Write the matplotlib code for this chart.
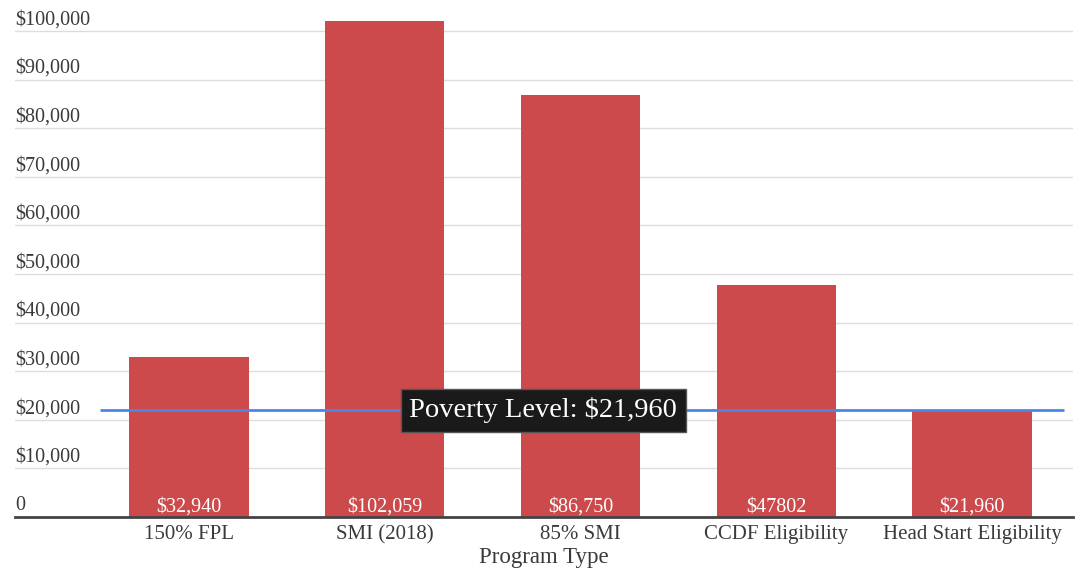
import matplotlib
matplotlib.use('Agg')
from matplotlib import pyplot as plt

# chart data
programs = ['150% FPL', 'SMI (2018)', '85% SMI', 'CCDF Eligibility', 'Head Start Eligibility']
incomes = [32940, 102059, 86750, 47802, 21960]
value_labels = ['$32,940', '$102,059', '$86,750', '$47802', '$21,960']
poverty_level = 21960
y_ticks = [0, 10000, 20000, 30000, 40000, 50000, 60000, 70000, 80000, 90000, 100000]

bar_color = '#cc4a4c'
line_color = '#4a86e8'
text_color = '#3a3a3a'

plt.rcParams['font.family'] = ['Liberation Serif', 'DejaVu Serif']

fig = plt.figure(figsize=(10.81, 5.73), dpi=100)
ax = fig.add_axes([15 / 1081, 1 - 517 / 573, (1073 - 15) / 1081, 517 / 573])

x = list(range(len(programs)))
ax.bar(x, incomes, width=0.61, color=bar_color, zorder=2)

ax.set_xlim(-0.888, 4.515)
ax.set_ylim(0, 106380)

# gridlines and y labels sitting above them
for t in y_ticks:
    if t > 0:
        ax.axhline(t, color='#dddddd', linewidth=1, zorder=1)
    label = '0' if t == 0 else '${:,}'.format(t)
    ax.text(0, t + 350, label, transform=ax.get_yaxis_transform(),
            ha='left', va='bottom', fontsize=14.5, color=text_color)

# value labels inside bars
for i, lab in enumerate(value_labels):
    ax.annotate(lab, (i, 0), xytext=(0, 0), textcoords='offset points',
                ha='center', va='bottom', fontsize=14.5, color='white', zorder=3)

# poverty line
ax.hlines(poverty_level, -0.454, 4.469, color=line_color, linewidth=2, zorder=4)
ax.text(1.81, poverty_level, 'Poverty Level: $21,960', ha='center', va='center',
        fontsize=20.5, color='white', zorder=5,
        bbox=dict(boxstyle='square,pad=0.3', facecolor='#1a1a1a', edgecolor='#555555'))

ax.set_xticks(x)
ax.set_xticklabels(programs, fontsize=15, color=text_color)
ax.tick_params(axis='x', length=0, pad=6)
ax.set_yticks([])
ax.set_xlabel('Program Type', fontsize=16.5, color=text_color, labelpad=2)

for side in ['top', 'right', 'left']:
    ax.spines[side].set_visible(False)
ax.spines['bottom'].set_color('#444444')
ax.spines['bottom'].set_linewidth(2)
ax.spines['bottom'].set_zorder(6)

fig.savefig('out.png', dpi=100)
